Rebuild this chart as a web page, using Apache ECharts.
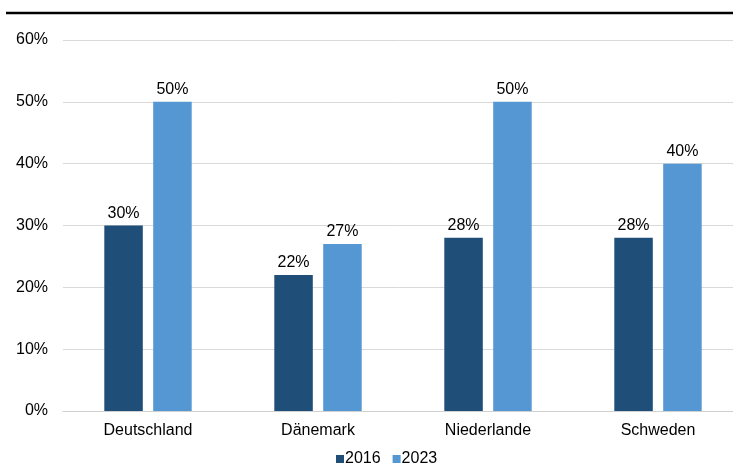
<!DOCTYPE html>
<html>
<head>
<meta charset="utf-8">
<style>
  html, body { margin: 0; padding: 0; background: #fff; }
  #chart { width: 733px; height: 466px; }
</style>
<script src="https://cdn.jsdelivr.net/npm/echarts@6/dist/echarts.min.js"></script>
</head>
<body>
<div id="chart"></div>
<script>
// Länder und Anteile je Erhebungsjahr (in Prozent)
const categories = ['Deutschland', 'Dänemark', 'Niederlande', 'Schweden'];
const values2016 = [30, 22, 28, 28];
const values2023 = [50, 27, 50, 40];
const yTicks = [0, 10, 20, 30, 40, 50, 60];

const font = 'Liberation Sans, Arial, sans-serif';
const chart = echarts.init(document.getElementById('chart'), null, { renderer: 'canvas' });

const labelStyle = {
  show: true,
  position: 'top',
  distance: 4,
  formatter: p => p.value + '%',
  color: '#000',
  fontFamily: font,
  fontSize: 16
};

chart.setOption({
  animation: false,
  graphic: [{
    type: 'line',
    shape: { x1: 6, y1: 13, x2: 733, y2: 13 },
    style: { stroke: '#000', lineWidth: 2.5 }
  }],
  grid: {
    left: 63, top: 40, width: 680, height: 371,
    containLabel: false,
    outerBoundsMode: 'none'
  },
  legend: {
    left: 336,
    top: 451,
    padding: 0,
    itemWidth: 8,
    itemHeight: 8,
    itemGap: 12,
    icon: 'rect',
    textStyle: { fontFamily: font, fontSize: 16, color: '#000', padding: [0, 0, 0, -4] },
    data: ['2016', '2023']
  },
  xAxis: {
    type: 'category',
    data: categories,
    axisTick: { show: false },
    axisLine: { lineStyle: { color: '#d0d0d0', width: 1 } },
    axisLabel: { fontFamily: font, fontSize: 16, color: '#000', margin: 12 }
  },
  yAxis: {
    type: 'value',
    min: yTicks[0],
    max: yTicks[yTicks.length - 1],
    interval: 10,
    axisLine: { show: false },
    axisTick: { show: false },
    splitLine: { lineStyle: { color: '#d9d9d9', width: 1 } },
    axisLabel: { fontFamily: font, fontSize: 16, color: '#000', margin: 15, formatter: v => v + '%' }
  },
  series: [
    {
      name: '2016',
      type: 'bar',
      data: values2016,
      barWidth: 38.5,
      barGap: '27%',
      itemStyle: { color: '#1F4E79' },
      label: labelStyle
    },
    {
      name: '2023',
      type: 'bar',
      data: values2023,
      barWidth: 38.5,
      itemStyle: { color: '#5597D3' },
      label: labelStyle
    }
  ]
});
</script>
</body>
</html>
